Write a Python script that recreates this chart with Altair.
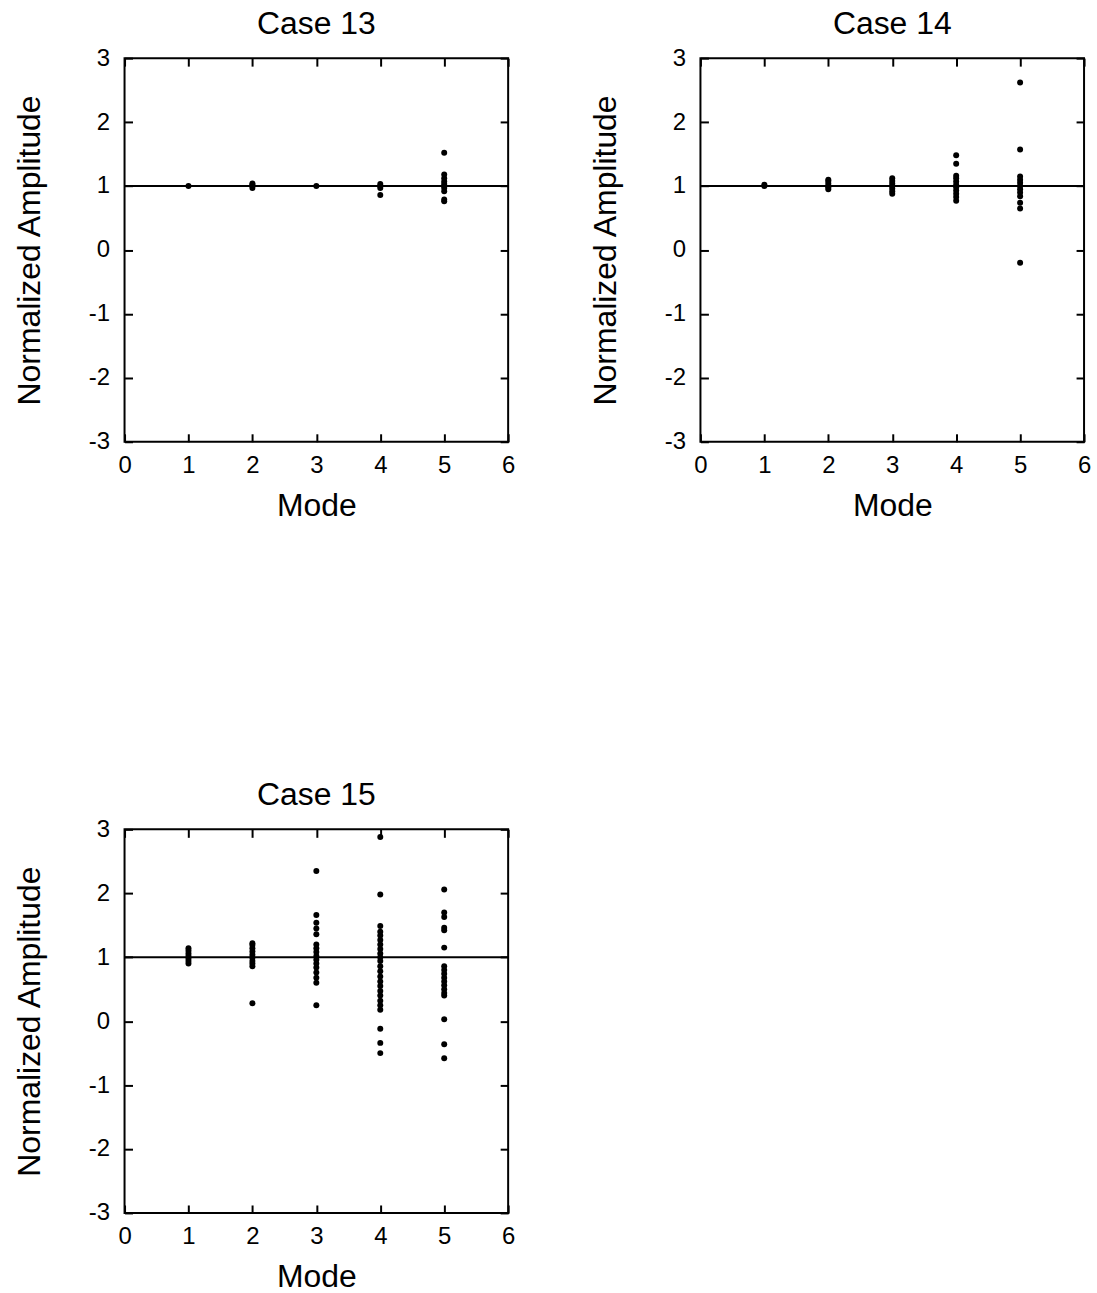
import altair as alt
import pandas as pd

modes = [1, 2, 3, 4, 5]
ticks_x = [0, 1, 2, 3, 4, 5, 6]
ticks_y = [-3, -2, -1, 0, 1, 2, 3]
reference_level = 1.0

case13_m1 = [1.0]
case13_m2 = [0.97, 1.0, 1.02, 1.04]
case13_m3 = [1.0]
case13_m4 = [0.86, 0.97, 1.0, 1.03]
case13_m5 = [0.76, 0.79, 0.92, 0.97, 1.0, 1.03, 1.07, 1.12, 1.18, 1.52]

case14_m1 = [1.0, 1.02]
case14_m2 = [0.95, 0.98, 1.0, 1.04, 1.08, 1.1]
case14_m3 = [0.88, 0.92, 0.96, 1.0, 1.04, 1.08, 1.12]
case14_m4 = [0.77, 0.83, 0.88, 0.93, 0.98, 1.02, 1.07, 1.12, 1.16, 1.35, 1.48]
case14_m5 = [-0.2, 0.65, 0.74, 0.84, 0.9, 0.95, 1.0, 1.05, 1.1, 1.15, 1.57, 2.62]

case15_m1 = [0.9, 0.94, 0.98, 1.02, 1.06, 1.1, 1.14]
case15_m2 = [0.28, 0.86, 0.9, 0.94, 0.99, 1.04, 1.09, 1.14, 1.19, 1.22]
case15_m3 = [0.25, 0.6, 0.68, 0.76, 0.84, 0.9, 0.96, 1.02, 1.08, 1.14, 1.2,
             1.36, 1.45, 1.54, 1.66, 2.35]
case15_m4 = [-0.5, -0.34, -0.12, 0.18, 0.25, 0.32, 0.4, 0.47, 0.55, 0.62, 0.7,
             0.78, 0.86, 0.94, 1.0, 1.06, 1.13, 1.2, 1.27, 1.34, 1.4, 1.49,
             1.98, 2.88]
case15_m5 = [-0.58, -0.36, 0.03, 0.4, 0.44, 0.5, 0.56, 0.62, 0.68, 0.74, 0.8,
             0.86, 1.15, 1.42, 1.46, 1.63, 1.7, 2.06]

cases = {
    "Case  13": [case13_m1, case13_m2, case13_m3, case13_m4, case13_m5],
    "Case  14": [case14_m1, case14_m2, case14_m3, case14_m4, case14_m5],
    "Case  15": [case15_m1, case15_m2, case15_m3, case15_m4, case15_m5],
}

FONT = "Liberation Sans"
TICK = 8


def make_df(series):
    rows = []
    for m, vals in zip(modes, series):
        for v in vals:
            rows.append({"mode": m, "amp": v})
    return pd.DataFrame(rows)


ref_df = pd.DataFrame({"ref": [reference_level]})


def panel(name):
    df = make_df(cases[name])
    xs = alt.Scale(domain=[0, 6], nice=False, zero=False)
    ys = alt.Scale(domain=[-3, 3], nice=False, zero=False)
    common = dict(domain=False, tickSize=TICK, offset=-TICK, tickWidth=2,
                  tickColor="black", grid=False, labelFlush=False,
                  labelFont=FONT, labelFontSize=24, labelColor="black",
                  titleFont=FONT, titleFontSize=32, titleFontWeight="normal",
                  titleColor="black")
    pts = alt.Chart(df).mark_circle(size=36, color="black", opacity=1).encode(
        x=alt.X("mode:Q", scale=xs,
                axis=alt.Axis(title="Mode", values=ticks_x, orient="bottom",
                              labelPadding=12, titlePadding=13,
                              labelExpr="'' + datum.value", **common)),
        y=alt.Y("amp:Q", scale=ys,
                axis=alt.Axis(title="Normalized Amplitude", values=ticks_y,
                              orient="left", labelPadding=15, titlePadding=42,
                              labelExpr="'' + datum.value", **common)),
    )
    frame = alt.Chart(df).mark_circle(opacity=0).encode(
        x=alt.X("mode:Q", scale=xs,
                axis=alt.Axis(title=None, values=ticks_x, orient="top",
                              labels=False, **common)),
        y=alt.Y("amp:Q", scale=ys,
                axis=alt.Axis(title=None, values=ticks_y, orient="right",
                              labels=False, **common)),
    )
    rule = alt.Chart(ref_df).mark_rule(color="black", strokeWidth=2).encode(
        y=alt.Y("ref:Q", scale=ys, axis=None)
    )
    return alt.layer(rule, pts, frame).resolve_axis(
        x="independent", y="independent"
    ).properties(
        width=385, height=385,
        title=alt.TitleParams(name, fontSize=32, font=FONT, fontWeight="normal",
                              offset=5, color="black"),
    )


top_row = alt.hconcat(panel("Case  13"), panel("Case  14"), spacing=72)
chart = alt.vconcat(top_row, panel("Case  15"), spacing=257).properties(
    padding={"left": 12, "top": 5, "right": 5, "bottom": 5},
    background="white",
).configure_view(
    stroke="black", strokeWidth=2
)

chart.save("out.html", embed_options={"renderer": "svg", "actions": False})
